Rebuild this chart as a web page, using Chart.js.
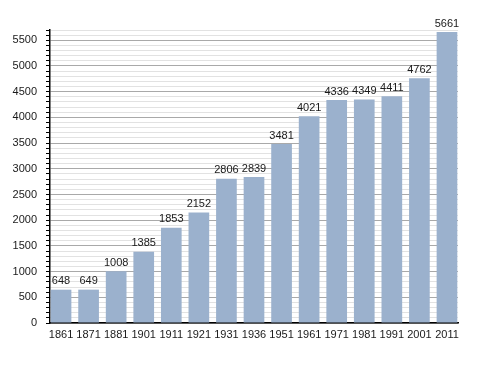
<!DOCTYPE html>
<html>
<head>
<meta charset="utf-8">
<script src="https://cdn.jsdelivr.net/npm/chart.js@4"></script>
<style>
  body { margin: 0; background: #fff; }
  #wrap { width: 488px; height: 373px; }
</style>
</head>
<body>
<div id="wrap"><canvas id="myChart"></canvas></div>
<script>
"use strict";

// Årtal och invånarantal
const years = ['1861', '1871', '1881', '1901', '1911', '1921', '1931', '1936', '1951', '1961', '1971', '1981', '1991', '2001', '2011'];
const population = [648, 649, 1008, 1385, 1853, 2152, 2806, 2839, 3481, 4021, 4336, 4349, 4411, 4762, 5661];
const yMax = 5700;
const yStep = 100;
const yLabelStep = 500;

// Staplarna ligger på en linjär x-axel (index 0..14) så att de hamnar kant i kant med axlarna
const points = population.map((v, i) => ({ x: i, y: v }));

// Skriver ut värdet ovanför varje stapel
const barLabels = {
  id: 'barLabels',
  afterDatasetsDraw(chart) {
    const ctx = chart.ctx;
    const meta = chart.getDatasetMeta(0);
    ctx.save();
    ctx.font = '11px "Liberation Sans", Arial, sans-serif';
    ctx.fillStyle = '#1a1a1a';
    ctx.textAlign = 'center';
    ctx.textBaseline = 'bottom';
    meta.data.forEach((bar, i) => {
      ctx.fillText(String(population[i]), bar.x, bar.y - 3);
    });
    ctx.restore();
  }
};

const ctx = document.getElementById('myChart');

new Chart(ctx, {
  type: 'bar',
  data: {
    datasets: [{
      data: points,
      backgroundColor: '#9bb1cd',
      borderWidth: 0,
      barPercentage: 0.75,
      categoryPercentage: 1
    }]
  },
  options: {
    responsive: true,
    maintainAspectRatio: false,
    animation: false,
    layout: { padding: { top: 30, right: 30, left: 0, bottom: 0 } },
    plugins: {
      legend: { display: false },
      tooltip: { enabled: false }
    },
    scales: {
      x: {
        type: 'linear',
        min: -0.4,
        max: years.length - 0.6,
        offset: false,
        grid: { display: false, drawTicks: false },
        border: { color: '#000', width: 1.5 },
        afterBuildTicks(scale) {
          scale.ticks = years.map((y, i) => ({ value: i }));
        },
        ticks: {
          color: '#1a1a1a',
          font: { family: '"Liberation Sans", Arial, sans-serif', size: 11 },
          padding: 5,
          maxRotation: 0,
          autoSkip: false,
          callback: v => years[v]
        },
        afterFit(scale) { scale.height = 50; }
      },
      y: {
        min: 0,
        max: yMax,
        border: { color: '#000', width: 1.5 },
        grid: {
          color: c => (c.tick && c.tick.value % yLabelStep === 0 ? '#a9a9a9' : '#e2e2e2'),
          tickColor: '#000',
          tickLength: 4,
          lineWidth: 1
        },
        ticks: {
          stepSize: yStep,
          autoSkip: false,
          maxTicksLimit: 100,
          padding: 9,
          color: '#1a1a1a',
          font: { family: '"Liberation Sans", Arial, sans-serif', size: 11 },
          callback: v => (v % yLabelStep === 0 ? String(v) : '')
        },
        afterFit(scale) { scale.width = 50; }
      }
    }
  },
  plugins: [barLabels]
});
</script>
</body>
</html>
